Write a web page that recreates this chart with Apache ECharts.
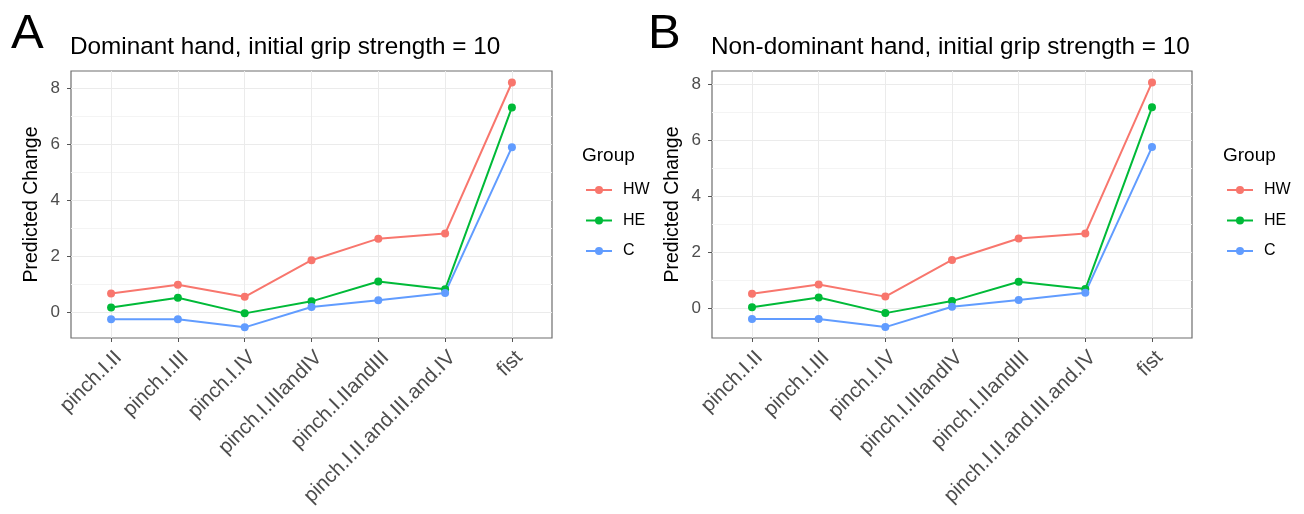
<!DOCTYPE html>
<html>
<head>
<meta charset="utf-8">
<script src="https://cdn.jsdelivr.net/npm/echarts@6/dist/echarts.min.js"></script>
<style>html,body{margin:0;padding:0;background:#fff;}#c{width:1304px;height:514px;}</style>
</head>
<body>
<div id="c"></div>
<script>
var categories = ['pinch.I.II','pinch.I.III','pinch.I.IV','pinch.I.IIIandIV','pinch.I.IIandIII','pinch.I.II.and.III.and.IV','fist'];
var groups = ['HW','HE','C'];
var colors = ['#F8766D','#00BA38','#619CFF'];
// Dominant hand
var domHW = [0.67, 0.98, 0.55, 1.86, 2.63, 2.81, 8.21];
var domHE = [0.17, 0.52, -0.04, 0.39, 1.10, 0.82, 7.32];
var domC  = [-0.25, -0.25, -0.54, 0.19, 0.43, 0.69, 5.90];
// Non-dominant hand
var ndHW = [0.52, 0.85, 0.42, 1.73, 2.50, 2.68, 8.08];
var ndHE = [0.04, 0.39, -0.17, 0.26, 0.95, 0.69, 7.19];
var ndC  = [-0.38, -0.38, -0.67, 0.06, 0.30, 0.56, 5.77];
var yTicks = [0, 2, 4, 6, 8];
var yMinor = [1, 3, 5, 7];
var panelTitles = ['Dominant hand, initial grip strength = 10', 'Non-dominant hand, initial grip strength = 10'];
var panelTags = ['A', 'B'];

var FONT = '"Liberation Sans", Arial, Helvetica, sans-serif';
var xIdx = categories.map(function(_, i){ return i; });

var chart = echarts.init(document.getElementById('c'), null, {renderer: 'canvas'});

var grids = [
  {left: 71, top: 71, width: 481, height: 267},
  {left: 712, top: 71, width: 480, height: 267}
];
var yRanges = [[-0.92, 8.62], [-1.06, 8.49]];
var panelData = [[domHW, domHE, domC], [ndHW, ndHE, ndC]];
var tagLeft = [11, 648];
var legendLeft = [585, 1226];
var groupLeft = [582, 1223];

var option = {
  backgroundColor: '#ffffff',
  animation: false,
  textStyle: {fontFamily: FONT},
  title: [],
  legend: [],
  grid: [],
  xAxis: [],
  yAxis: [],
  series: []
};

grids.forEach(function(g, p){
  option.grid.push({left: g.left, top: g.top, width: g.width, height: g.height, show: true,
    borderColor: '#6e6e6e', borderWidth: 1.2, backgroundColor: 'transparent', containLabel: false});
  option.xAxis.push({
    type: 'value', gridIndex: p, min: -0.6, max: 6.6,
    axisLine: {show: false, onZero: false},
    axisTick: {show: true, customValues: xIdx, length: 4, lineStyle: {color: '#555', width: 1}},
    axisLabel: {show: true, customValues: xIdx, rotate: 45, margin: 9, verticalAlign: 'top', align: 'right',
      fontSize: 20.5, color: '#4d4d4d', fontFamily: FONT,
      formatter: function(v){ return categories[Math.round(v)]; }},
    splitLine: {show: true, lineStyle: {color: '#ebebeb', width: 1}}
  });
  option.yAxis.push({
    type: 'value', gridIndex: p, min: yRanges[p][0], max: yRanges[p][1],
    name: 'Predicted Change', nameLocation: 'middle', nameRotate: 90, nameGap: 29,
    nameTextStyle: {fontSize: 19.5, color: '#000', fontFamily: FONT},
    axisLine: {show: false, onZero: false},
    axisTick: {show: true, customValues: yTicks, length: 4, lineStyle: {color: '#555', width: 1}},
    axisLabel: {show: true, customValues: yTicks, margin: 11, fontSize: 17, color: '#4d4d4d', fontFamily: FONT},
    splitLine: {show: true, lineStyle: {color: '#ebebeb', width: 1}}
  });
  // minor horizontal grid
  option.yAxis.push({
    type: 'value', gridIndex: p, min: yRanges[p][0], max: yRanges[p][1],
    axisLine: {show: false, onZero: false},
    axisTick: {show: false, customValues: yMinor},
    axisLabel: {show: false},
    splitLine: {show: true, lineStyle: {color: '#f4f4f4', width: 1}}
  });
  option.title.push({text: panelTags[p], left: tagLeft[p], top: 10, padding: 0,
    textStyle: {fontSize: 49, fontWeight: 'normal', color: '#000', fontFamily: FONT}});
  option.title.push({text: panelTitles[p], left: g.left - 1, top: 35, padding: 0,
    textStyle: {fontSize: 24.3, fontWeight: 'normal', color: '#000', fontFamily: FONT}});
  option.title.push({text: 'Group', left: groupLeft[p], top: 146, padding: 0,
    textStyle: {fontSize: 19, fontWeight: 'normal', color: '#000', fontFamily: FONT}});
  option.legend.push({
    data: groups, orient: 'vertical', left: legendLeft[p], top: 182, padding: 0,
    itemWidth: 26, itemHeight: 10, itemGap: 14.5, selectedMode: false,
    textStyle: {fontSize: 16, color: '#000', fontFamily: FONT, padding: [0, 0, 0, 6]}
  });
  panelData[p].forEach(function(arr, s){
    option.series.push({
      name: groups[s], type: 'line', xAxisIndex: p, yAxisIndex: p * 2,
      data: arr.map(function(v, i){ return [i, v]; }),
      symbol: 'circle', symbolSize: 8, showSymbol: true,
      lineStyle: {color: colors[s], width: 2},
      itemStyle: {color: colors[s]},
      z: 3
    });
  });
});

chart.setOption(option);
</script>
</body>
</html>
